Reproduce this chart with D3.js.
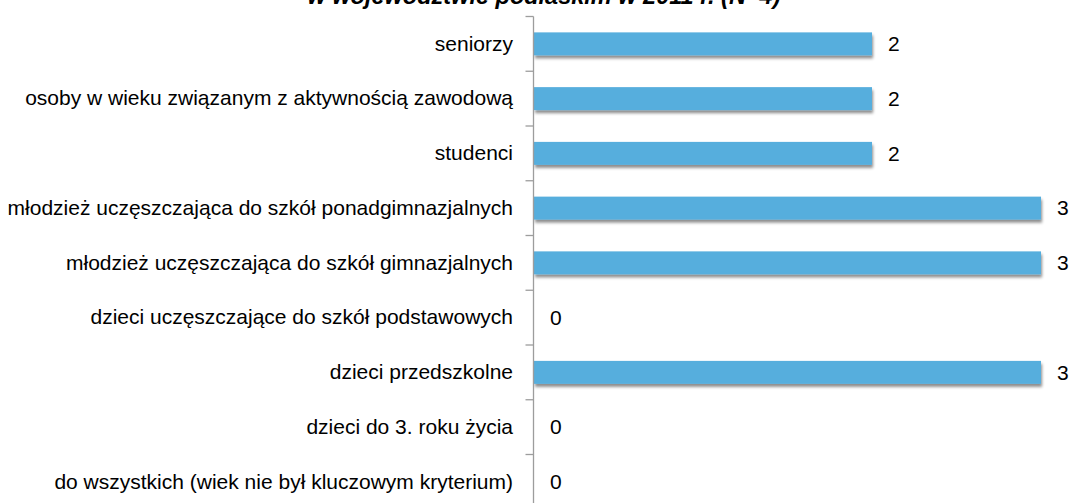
<!DOCTYPE html>
<html lang="pl">
<head>
<meta charset="utf-8">
<script src="https://cdn.jsdelivr.net/npm/d3@7"></script>
<style>
  html, body { margin: 0; padding: 0; background: #ffffff; }
  svg { display: block; }
</style>
</head>
<body>
<svg id="chart" width="1070" height="503"></svg>
<script>
// Categories listed top to bottom
const categories = [
  "seniorzy",
  "osoby w wieku związanym z aktywnością zawodową",
  "studenci",
  "młodzież uczęszczająca do szkół ponadgimnazjalnych",
  "młodzież uczęszczająca do szkół gimnazjalnych",
  "dzieci uczęszczające do szkół podstawowych",
  "dzieci przedszkolne",
  "dzieci do 3. roku życia",
  "do wszystkich (wiek nie był kluczowym kryterium)"
];
const values = [2, 2, 2, 3, 3, 0, 3, 0, 0];
const titleText = "w województwie podlaskim w 2011 r. (N=4)";

const labelFont = "'Liberation Sans', Arial, sans-serif";
const labelSize = "21px";

const svg = d3.select("#chart");

const defs = svg.append("defs");
const f = defs.append("filter").attr("id", "barShadow")
  .attr("x", "-5%").attr("y", "-30%").attr("width", "110%").attr("height", "180%");
f.append("feDropShadow")
  .attr("dx", 1).attr("dy", 3).attr("stdDeviation", 1.4)
  .attr("flood-color", "#000").attr("flood-opacity", 0.45);

const plotTop = 16.5, step = 54.75;
const pad = 0.58;
const y = d3.scaleBand()
  .domain(categories)
  .range([plotTop, plotTop + step * categories.length])
  .paddingInner(pad)
  .paddingOuter(pad / 2);

const x = d3.scaleLinear().domain([0, 3]).range([534, 1041]);

// Title (runs off the top edge)
svg.append("text")
  .attr("x", 544).attr("y", 4)
  .attr("text-anchor", "middle")
  .style("font-family", "'Liberation Sans', Arial, sans-serif")
  .style("font-size", "23.5px")
  .style("font-weight", "bold")
  .style("font-style", "italic")
  .attr("fill", "#000")
  .text(titleText);

// Bars
svg.append("g").selectAll("rect")
  .data(categories)
  .join("rect")
  .attr("x", x(0))
  .attr("y", d => y(d))
  .attr("width", (d, i) => x(values[i]) - x(0))
  .attr("height", y.bandwidth())
  .attr("fill", "#57aedd")
  .attr("filter", "url(#barShadow)");

// Category labels
const axis = d3.axisLeft(y).tickSize(0).tickPadding(20.5);
const gAxis = svg.append("g")
  .attr("transform", `translate(${x(0) - 0.5},0)`)
  .call(axis);
gAxis.select(".domain").remove();
gAxis.selectAll("text")
  .style("font-family", labelFont)
  .style("font-size", labelSize)
  .attr("fill", "#000");

// Axis line and tick marks at band boundaries
const axisX = x(0) - 0.5;
svg.append("line")
  .attr("x1", axisX).attr("x2", axisX)
  .attr("y1", plotTop).attr("y2", plotTop + step * categories.length)
  .attr("stroke", "#9d9d9d").attr("stroke-width", 1.3);
svg.append("g").selectAll("line")
  .data(d3.range(categories.length + 1))
  .join("line")
  .attr("x1", axisX - 8).attr("x2", axisX)
  .attr("y1", i => plotTop + i * step).attr("y2", i => plotTop + i * step)
  .attr("stroke", "#9d9d9d").attr("stroke-width", 1.3);

// Value labels
svg.append("g").selectAll("text")
  .data(categories)
  .join("text")
  .attr("x", (d, i) => x(values[i]) + 16)
  .attr("y", d => y(d) + y.bandwidth() / 2)
  .attr("dy", "0.35em")
  .style("font-family", labelFont)
  .style("font-size", labelSize)
  .attr("fill", "#000")
  .text((d, i) => values[i]);
</script>
</body>
</html>
